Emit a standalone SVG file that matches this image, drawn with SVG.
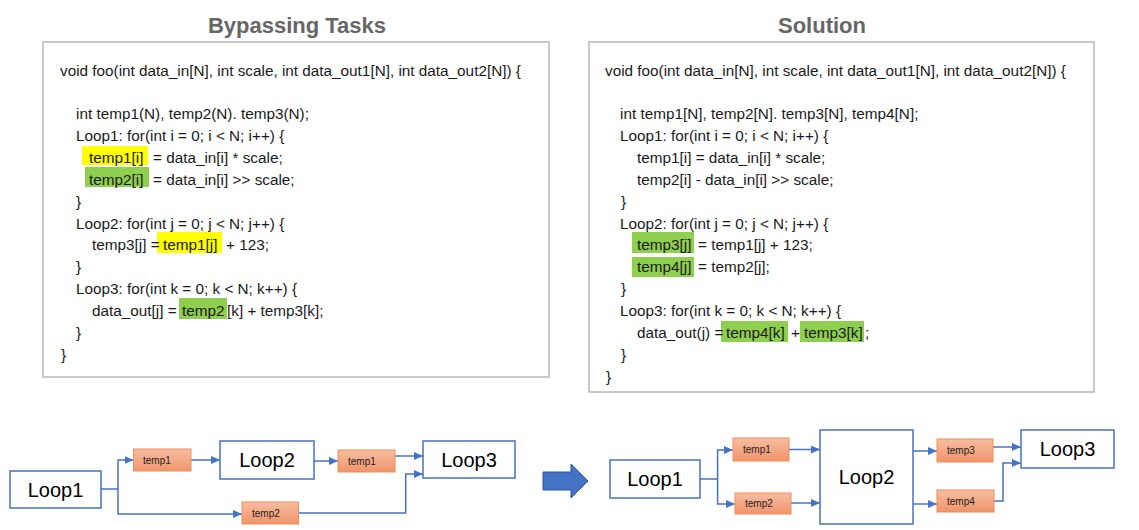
<svg xmlns="http://www.w3.org/2000/svg" width="1139" height="530" viewBox="0 0 1139 530">
<style>
.title{font-family:"Liberation Sans",Arial,sans-serif;font-size:22px;font-weight:bold;fill:#666666;text-anchor:middle}
.panel{fill:#ffffff;stroke:#c4c4c4;stroke-width:1.8}
.code{font-family:"Liberation Sans",Arial,sans-serif;font-size:15.3px;fill:#1a1a1a}
.hy{fill:#ffff00}
.hg{fill:#8fcf4f}
.loop{fill:#ffffff;stroke:#4472c4;stroke-width:1.5}
.loopt{font-family:"Liberation Sans",Arial,sans-serif;font-size:20px;fill:#000000;text-anchor:middle}
.tmp{fill:url(#og);stroke:#ef8e57;stroke-width:1}
.tmpt{font-family:"Liberation Sans",Arial,sans-serif;font-size:10px;fill:#1e1e1e}
.conn{fill:none;stroke:#4472c4;stroke-width:1.5;marker-end:url(#ah)}
.seg{fill:none;stroke:#4472c4;stroke-width:1.5}
</style>
<defs>
<linearGradient id="og" x1="0" y1="0" x2="0" y2="1">
<stop offset="0" stop-color="#f7bda2"/>
<stop offset="1" stop-color="#f1946a"/>
</linearGradient>
<marker id="ah" markerUnits="userSpaceOnUse" markerWidth="9" markerHeight="8" refX="9" refY="4" orient="auto">
<path d="M0,0 L9,4 L0,8 z" fill="#4472c4"/>
</marker>
</defs>
<rect width="1139" height="530" fill="#ffffff"/>

<g id="title-left"><text class="title" x="297" y="33">Bypassing Tasks</text></g>
<g id="title-right"><text class="title" x="822" y="33">Solution</text></g>

<g id="code-left">
<rect class="panel" x="43" y="42" width="506" height="335"/>
<rect class="hy" x="82" y="146" width="66" height="19"/>
<rect class="hg" x="85" y="167" width="64" height="20"/>
<rect class="hy" x="157" y="232" width="65" height="21"/>
<rect class="hg" x="179" y="298" width="48" height="21"/>
<text class="code" x="60" y="76">void foo(int data_in[N], int scale, int data_out1[N], int data_out2[N]) {</text>
<text class="code" x="76" y="119">int temp1(N), temp2(N). temp3(N);</text>
<text class="code" x="76" y="141">Loop1: for(int i = 0; i &lt; N; i++) {</text>
<text class="code" y="163"><tspan x="89">temp1[i]</tspan><tspan x="153">= data_in[i] * scale;</tspan></text>
<text class="code" y="185"><tspan x="89">temp2[i]</tspan><tspan x="153">= data_in[i] &gt;&gt; scale;</tspan></text>
<text class="code" x="76" y="207">}</text>
<text class="code" x="76" y="228.5">Loop2: for(int j = 0; j &lt; N; j++) {</text>
<text class="code" y="250.4"><tspan x="92">temp3[j] =</tspan><tspan x="163">temp1[j]</tspan><tspan x="226">+ 123;</tspan></text>
<text class="code" x="76" y="272.3">}</text>
<text class="code" x="76" y="294.2">Loop3: for(int k = 0; k &lt; N; k++) {</text>
<text class="code" y="316"><tspan x="92">data_out[j] =</tspan><tspan x="182">temp2</tspan><tspan x="227">[k] + temp3[k];</tspan></text>
<text class="code" x="76" y="338">}</text>
<text class="code" x="61" y="360">}</text>
</g>

<g id="code-right">
<rect class="panel" x="589" y="42" width="505" height="350"/>
<rect class="hg" x="632" y="232" width="62" height="21"/>
<rect class="hg" x="632" y="257" width="62" height="20"/>
<rect class="hg" x="721" y="321" width="67" height="21"/>
<rect class="hg" x="800" y="321" width="64" height="21"/>
<text class="code" x="605" y="76">void foo(int data_in[N], int scale, int data_out1[N], int data_out2[N]) {</text>
<text class="code" x="620" y="119">int temp1[N], temp2[N]. temp3[N], temp4[N];</text>
<text class="code" x="620" y="141">Loop1: for(int i = 0; i &lt; N; i++) {</text>
<text class="code" x="637" y="163">temp1[i] = data_in[i] * scale;</text>
<text class="code" x="637" y="185">temp2[i] - data_in[i] &gt;&gt; scale;</text>
<text class="code" x="621" y="206.6">}</text>
<text class="code" x="620" y="228.5">Loop2: for(int j = 0; j &lt; N; j++) {</text>
<text class="code" y="250.4"><tspan x="637">temp3[j]</tspan><tspan x="698">= temp1[j] + 123;</tspan></text>
<text class="code" y="272.3"><tspan x="637">temp4[j]</tspan><tspan x="698">= temp2[j];</tspan></text>
<text class="code" x="621" y="294.2">}</text>
<text class="code" x="620" y="316">Loop3: for(int k = 0; k &lt; N; k++) {</text>
<text class="code" y="338"><tspan x="637">data_out(j) =</tspan><tspan x="726">temp4[k]</tspan><tspan x="791">+</tspan><tspan x="804">temp3[k]</tspan><tspan x="865">;</tspan></text>
<text class="code" x="621" y="360">}</text>
<text class="code" x="606" y="382">}</text>
</g>

<g id="connectors">
<path class="seg" d="M101,489 H118"/>
<path class="conn" d="M118,489 V460 H133.5"/>
<path class="conn" d="M118,489 V514 H242"/>
<path class="conn" d="M191,460 H220"/>
<path class="conn" d="M314,461 H338"/>
<path class="conn" d="M395,456 H423"/>
<path class="conn" d="M298.5,513 H405.7 V474 H423"/>
<path class="seg" d="M700,479 H717.6"/>
<path class="conn" d="M717.6,479 V450 H733"/>
<path class="conn" d="M717.6,479 V504 H735"/>
<path class="conn" d="M789,449.5 H820"/>
<path class="conn" d="M791,503 H820"/>
<path class="conn" d="M913,451 H937"/>
<path class="conn" d="M913,504 H937"/>
<path class="conn" d="M993,447 H1021"/>
<path class="conn" d="M994,501 H1003 V463 H1021"/>
</g>

<g id="big-arrow">
<path d="M543,472 H571 V464 L588,481 L571,498 V490 H543 Z" fill="#4472c4" stroke="#2f5597" stroke-width="1"/>
</g>

<g id="L-loop1"><rect class="loop" x="10" y="471" width="91" height="37"/><text class="loopt" x="55.5" y="496.5">Loop1</text></g>
<g id="L-temp1a"><rect class="tmp" x="133.5" y="449" width="57.5" height="22"/><text class="tmpt" x="143" y="463.5">temp1</text></g>
<g id="L-loop2"><rect class="loop" x="220" y="441" width="94" height="38"/><text class="loopt" x="267" y="467">Loop2</text></g>
<g id="L-temp1b"><rect class="tmp" x="338" y="450" width="57" height="22"/><text class="tmpt" x="348" y="464.5">temp1</text></g>
<g id="L-loop3"><rect class="loop" x="423" y="441" width="92" height="37"/><text class="loopt" x="469" y="466.5">Loop3</text></g>
<g id="L-temp2"><rect class="tmp" x="242" y="502" width="56.5" height="22"/><text class="tmpt" x="252" y="516.5">temp2</text></g>

<g id="R-loop1"><rect class="loop" x="610" y="460" width="90" height="38"/><text class="loopt" x="655" y="486">Loop1</text></g>
<g id="R-temp1"><rect class="tmp" x="733" y="438" width="56" height="23"/><text class="tmpt" x="743" y="453">temp1</text></g>
<g id="R-temp2"><rect class="tmp" x="735" y="493" width="56" height="21"/><text class="tmpt" x="745" y="507">temp2</text></g>
<g id="R-loop2"><rect class="loop" x="820" y="430" width="93" height="94"/><text class="loopt" x="866.5" y="484">Loop2</text></g>
<g id="R-temp3"><rect class="tmp" x="937" y="439" width="56" height="23"/><text class="tmpt" x="947" y="454">temp3</text></g>
<g id="R-temp4"><rect class="tmp" x="937" y="490" width="57" height="22"/><text class="tmpt" x="947" y="504.5">temp4</text></g>
<g id="R-loop3"><rect class="loop" x="1021" y="430" width="93" height="38"/><text class="loopt" x="1067.5" y="456">Loop3</text></g>
</svg>
